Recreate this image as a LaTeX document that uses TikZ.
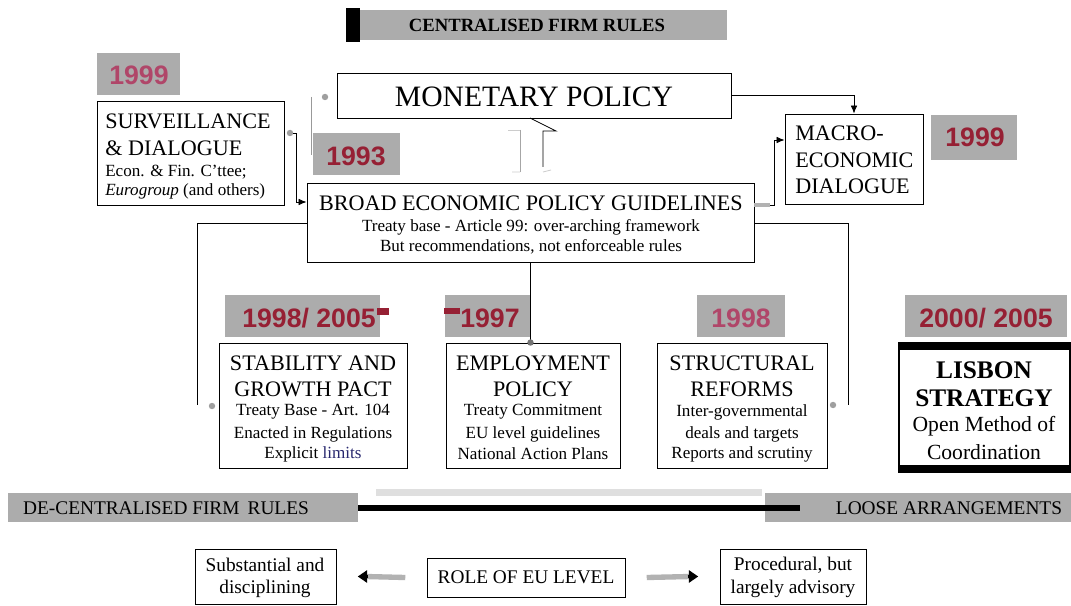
\documentclass[tikz,border=0pt]{standalone}
\usepackage{fontspec}
\setmainfont{Liberation Serif}
\newfontfamily\arialf{Liberation Sans}
\usetikzlibrary{fit,arrows.meta}
\definecolor{yr}{RGB}{150,32,52}
\definecolor{yrfaded}{RGB}{176,70,105}
\definecolor{ygrey}{RGB}{172,172,172}
\definecolor{limitblue}{RGB}{40,40,110}
\tikzset{
  box/.style={draw, line width=0.7pt, fill=white, inner sep=0pt},
  yearbg/.style={fill=ygrey, inner sep=0pt},
  yeartxt/.style={font=\arialf\bfseries\fontsize{20}{22}\selectfont, text=yr, inner sep=0pt},
  fadedyear/.style={yeartxt, text=yrfaded},
  bigt/.style={font=\fontsize{16.6}{18}\selectfont, inner sep=0pt},
  smallt/.style={font=\fontsize{12.8}{14}\selectfont, inner sep=0pt},
  bott/.style={font=\fontsize{14.5}{16}\selectfont, inner sep=0pt},
  conn/.style={line width=0.6pt},
  arr/.style={conn, -{Latex[length=6pt,width=5pt]}},
  gdot/.style={fill=gray!75, circle, inner sep=1.7pt},
  redmark/.style={fill=yr, inner sep=0pt},
}
\begin{document}
\begin{tikzpicture}[x=0.75pt,y=-0.75pt]
\useasboundingbox[fill=white] (0,0) rectangle (1071,606);

% top banner
\node[yearbg, fit={(360,10)(727,40)}] (ban) {};
\node[fill=black, inner sep=0pt, fit={(346,8)(360,42)}] (banblk) {};
\node[font=\bfseries\fontsize{14}{16}\selectfont, inner sep=0pt] (banT) at (537,25) {CENTRALISED FIRM RULES};

% monetary policy
\node[box, fit={(337,73)(731,118)}] (mon) {};
\node[font=\fontsize{22.2}{24}\selectfont, inner sep=0pt] (monT) at (534,97) {MONETARY POLICY};

% surveillance
\node[yearbg, fit={(97,53)(180,95)}] (y1bg) {};
\node[fadedyear] (y1) at (139,75) {1999};
\node[box, fit={(97,101)(284,205)}] (surv) {};
\node[bigt, anchor=west] (survT1) at (105,121) {SURVEILLANCE};
\node[bigt, anchor=west] (survT2) at (105,148) {\& DIALOGUE};
\node[smallt, anchor=west] (survT3) at (105,172) {Econ. \& Fin. C'ttee;};
\node[smallt, anchor=west] (survT4) at (105,191) {\textit{Eurogroup} (and others)};

% 1993
\node[yearbg, fit={(313,133)(400,175)}] (y2bg) {};
\node[yeartxt] (y2) at (356,156) {1993};

% BEPG
\node[box, fit={(307,183)(754,262)}] (bepg) {};
\node[bigt] (bepgT1) at (531,203) {BROAD ECONOMIC POLICY GUIDELINES};
\node[smallt] (bepgT2) at (531,227) {Treaty base - Article 99: over-arching framework};
\node[smallt] (bepgT3) at (531,247) {But recommendations, not enforceable rules};

% macro
\node[box, fit={(785,114)(923,204)}] (mac) {};
\node[bigt, anchor=west] (macT1) at (795,133) {MACRO-};
\node[bigt, anchor=west] (macT2) at (795,160) {ECONOMIC};
\node[bigt, anchor=west] (macT3) at (795,186) {DIALOGUE};
\node[yearbg, fit={(931,115)(1017,160)}] (y3bg) {};
\node[yeartxt] (y3) at (975,137) {1999};

% stability
\node[yearbg, fit={(225,295)(380,337)}] (y4bg) {};
\node[yeartxt] (y4) at (309,318) {1998/ 2005};
\node[redmark, fit={(377,308)(389,315)}] (y4m) {};
\node[box, fit={(219,343)(407,468)}] (sgp) {};
\node[bigt] (sgpT1) at (313,363) {STABILITY AND};
\node[bigt] (sgpT2) at (313,389) {GROWTH PACT};
\node[smallt] (sgpT3) at (313,412) {Treaty Base - Art. 104};
\node[smallt] (sgpT4) at (313,434) {Enacted in Regulations};
\node[smallt] (sgpT5) at (313,454) {Explicit \textcolor{limitblue}{limits}};

% employment
\node[yearbg, fit={(445,295)(530,337)}] (y5bg) {};
\node[yeartxt] (y5) at (490,318) {1997};
\node[redmark, fit={(444,308)(460,314)}] (y5m) {};
\node[box, fit={(446,343)(620,468)}] (emp) {};
\node[bigt] (empT1) at (533,363) {EMPLOYMENT};
\node[bigt] (empT2) at (533,389) {POLICY};
\node[smallt] (empT3) at (533,412) {Treaty Commitment};
\node[smallt] (empT4) at (533,434) {EU level guidelines};
\node[smallt] (empT5) at (533,454) {National Action Plans};

% structural
\node[yearbg, fit={(697,295)(785,337)}] (y6bg) {};
\node[fadedyear] (y6) at (741,318) {1998};
\node[box, fit={(657,343)(827,468)}] (str) {};
\node[bigt] (strT1) at (742,363) {STRUCTURAL};
\node[bigt] (strT2) at (742,389) {REFORMS};
\node[smallt] (strT3) at (742,412) {Inter-governmental};
\node[smallt] (strT4) at (742,434) {deals and targets};
\node[smallt] (strT5) at (742,454) {Reports and scrutiny};

% lisbon
\node[yearbg, fit={(905,295)(1067,337)}] (y7bg) {};
\node[yeartxt] (y7) at (986,318) {2000/ 2005};
\node[box, line width=1pt, fit={(899,343)(1070,472)}] (lis) {};
\fill (899,343) rectangle (1070,350);
\fill (899,465) rectangle (1070,472);
\node[font=\bfseries\fontsize{19}{21}\selectfont, inner sep=0pt] (lisT1) at (984,370) {LISBON};
\node[font=\bfseries\fontsize{19}{21}\selectfont, inner sep=0pt] (lisT2) at (984,398) {STRATEGY};
\node[font=\fontsize{16.2}{18}\selectfont, inner sep=0pt] (lisT3) at (984,426) {Open Method of};
\node[font=\fontsize{16.2}{18}\selectfont, inner sep=0pt] (lisT4) at (984,452) {Coordination};

% connectors
\node[gdot] (dS) at (290,133) {};
\draw[arr] (dS) -| (296,202) -- (bepg.west |- 0,202);
\draw[arr] (mon.east) -| (mac.north);
\draw[line width=2.5pt, gray!60] (bepg.east |- 0,205) -- (770,205);
\draw[arr] (770,205) -| (774,140) -- (mac.west |- 0,140);
\node[gdot] (dM) at (325,97) {};
\draw[conn, gray!80] (311,97) -- (311,155);
\node[gdot] (dL) at (212,406) {};
\draw[conn] (bepg.west |- 0,223) -| (197,405);
\node[gdot] (dR) at (833,405) {};
\draw[conn] (bepg.east |- 0,223) -| (848,405);
\draw[conn] (bepg.south) -- (bepg.south |- emp.north);
\node[gdot, fill=gray!90!black] (dE) at (bepg.south |- emp.north) {};

% block arrow between monetary and BEPG
\draw[conn, gray!70] (520,130) -- (520,172);
\draw[conn, gray!40] (508,130) -- (520,130);
\draw[conn, gray!40] (512,172) -- (520,172) (543,172) -- (551,170);
\draw[conn] (543,167) -- (543,131) -- (556,131) -- (530,118);

% bottom band
\node[yearbg, fit={(8,493)(358,522)}] (bandL) {};
\node[yearbg, fit={(765,493)(1071,522)}] (bandR) {};
\fill[gray!25] (376,489) rectangle (762,496);
\coordinate (bandEnd) at (800,507.5);
\draw[line width=4.5pt] (bandL.east) -- (bandEnd);
\node[bott] (decT) at (166,508) {DE-CENTRALISED FIRM\, RULES};
\node[bott] (looseT) at (949,508) {LOOSE ARRANGEMENTS};

% role of EU level
\node[box, line width=0.6pt, fit={(195,549)(336,604)}] (subs) {};
\node[bott] (subsT1) at (265,565) {Substantial and};
\node[bott] (subsT2) at (265,589) {disciplining};
\node[box, line width=0.6pt, fit={(427,558)(625,597)}] (role) {};
\node[bott] (roleT) at (526,577) {ROLE OF EU LEVEL};
\node[box, line width=0.6pt, fit={(720,549)(866,604)}] (proc) {};
\node[bott] (procT1) at (793,565) {Procedural, but};
\node[bott] (procT2) at (793,589) {largely advisory};

\draw[line width=4pt, gray!60] ([xshift=-16pt]role.west) -- ([xshift=22pt]subs.east);
\draw[-{Triangle[length=7pt,width=9pt]}, line width=2pt] ([xshift=24pt]subs.east) -- ([xshift=16pt]subs.east);
\draw[line width=4pt, gray!60] ([xshift=16pt]role.east) -- ([xshift=-22pt]proc.west);
\draw[-{Triangle[length=7pt,width=9pt]}, line width=2pt] ([xshift=-24pt]proc.west) -- ([xshift=-16pt]proc.west);
\end{tikzpicture}
\end{document}
